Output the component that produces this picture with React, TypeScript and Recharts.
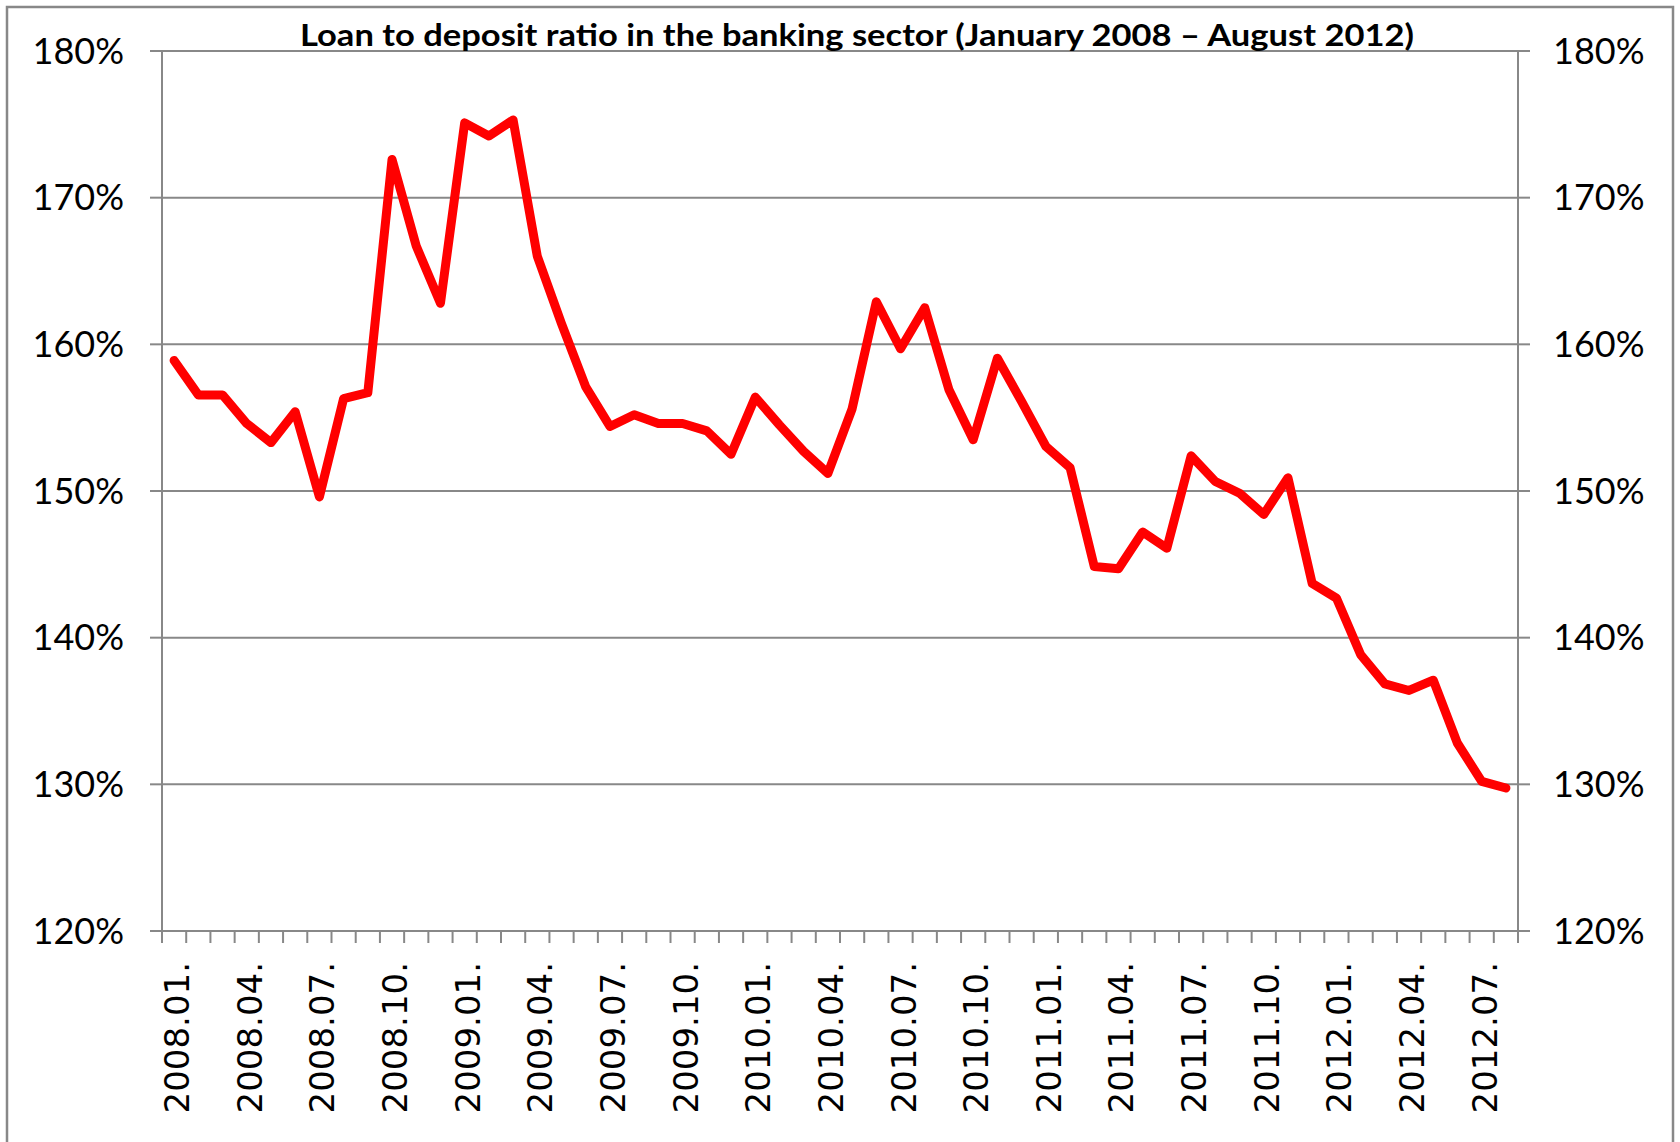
import React from "react";
import {
  LineChart,
  Line,
  XAxis,
  YAxis,
  CartesianGrid,
} from "recharts";

// Loan to deposit ratio, monthly, Jan 2008 - Aug 2012 (values in %)

const months = [
  "2008.01.", "2008.02.", "2008.03.", "2008.04.", "2008.05.", "2008.06.",
  "2008.07.", "2008.08.", "2008.09.", "2008.10.", "2008.11.", "2008.12.",
  "2009.01.", "2009.02.", "2009.03.", "2009.04.", "2009.05.", "2009.06.",
  "2009.07.", "2009.08.", "2009.09.", "2009.10.", "2009.11.", "2009.12.",
  "2010.01.", "2010.02.", "2010.03.", "2010.04.", "2010.05.", "2010.06.",
  "2010.07.", "2010.08.", "2010.09.", "2010.10.", "2010.11.", "2010.12.",
  "2011.01.", "2011.02.", "2011.03.", "2011.04.", "2011.05.", "2011.06.",
  "2011.07.", "2011.08.", "2011.09.", "2011.10.", "2011.11.", "2011.12.",
  "2012.01.", "2012.02.", "2012.03.", "2012.04.", "2012.05.", "2012.06.",
  "2012.07.", "2012.08.",
];

const ratio = [
  158.9, 156.55, 156.55, 154.6, 153.3, 155.4, 149.6, 156.3, 156.7, 172.6, 166.7, 162.8,
  175.1, 174.2, 175.3, 166.0, 161.4, 157.1, 154.4, 155.2, 154.6, 154.6, 154.1, 152.5,
  156.4, 154.5, 152.7, 151.2, 155.6, 162.9, 159.7, 162.5, 156.9, 153.5, 159.05, 156.1,
  153.05, 151.6, 144.85, 144.7, 147.2, 146.1, 152.4, 150.65, 149.85, 148.4, 150.9, 143.7,
  142.7, 138.85, 136.85, 136.4, 137.1, 132.8, 130.2, 129.75,
];

const shownLabels = [
  "2008.01.", "2008.04.", "2008.07.", "2008.10.",
  "2009.01.", "2009.04.", "2009.07.", "2009.10.",
  "2010.01.", "2010.04.", "2010.07.", "2010.10.",
  "2011.01.", "2011.04.", "2011.07.", "2011.10.",
  "2012.01.", "2012.04.", "2012.07.",
];

const yTicks = [120, 130, 140, 150, 160, 170, 180];

const data = months.map((m, i) => ({ month: m, ratio: ratio[i] }));

const W = 1680;
const H = 1142;
const halfBand = 12.1;
const grey = "#888888";

const MonthTick = (props: any) => {
  const { x, y, payload, index } = props;
  const labelY = y + 31;
  const show = shownLabels.includes(payload.value);
  return (
    <g>
      <line x1={x - halfBand} x2={x - halfBand} y1={y} y2={y + 12} stroke={grey} strokeWidth={2} />
      {index === months.length - 1 && (
        <line x1={x + halfBand} x2={x + halfBand} y1={y} y2={y + 12} stroke={grey} strokeWidth={2} />
      )}
      {show && (
        <text
          x={x + 3}
          y={labelY}
          transform={`rotate(-90, ${x + 3}, ${labelY})`}
          textAnchor="end"
          dominantBaseline="central"
          fontFamily="DejaVu Sans"
          fontSize={34}
          fill="#000"
        >
          {payload.value}
        </text>
      )}
    </g>
  );
};

const tickStyle = { fill: "#000", fontSize: 36, fontFamily: "Lato" };

export default function App() {
  return (
    <div style={{ position: "absolute", left: 0, top: 0, width: W, height: H, background: "#fff" }}>
      <LineChart
        width={W}
        height={H}
        data={data}
        margin={{ top: 51, right: 12, bottom: 0, left: 12 }}
      >
        <CartesianGrid yAxisId="left" vertical={false} stroke={grey} strokeWidth={2} />
        <XAxis
          dataKey="month"
          height={211}
          interval={0}
          padding={{ left: halfBand, right: halfBand }}
          axisLine={{ stroke: grey, strokeWidth: 2 }}
          tickLine={false}
          tickSize={0}
          tickMargin={0}
          tick={<MonthTick />}
        />
        <YAxis
          yAxisId="left"
          orientation="left"
          width={150}
          domain={[120, 180]}
          ticks={yTicks}
          interval={0}
          tickFormatter={(v: number) => `${v}%`}
          axisLine={{ stroke: grey, strokeWidth: 2 }}
          tickLine={{ stroke: grey, strokeWidth: 2 }}
          tickSize={12}
          tickMargin={26}
          tick={tickStyle}
        />
        <YAxis
          yAxisId="right"
          orientation="right"
          width={150}
          domain={[120, 180]}
          ticks={yTicks}
          interval={0}
          tickFormatter={(v: number) => `${v}%`}
          axisLine={{ stroke: grey, strokeWidth: 2 }}
          tickLine={{ stroke: grey, strokeWidth: 2 }}
          tickSize={12}
          tickMargin={23}
          tick={tickStyle}
        />
        {/* invisible copy so the secondary axis gets its ticks */}
        <Line
          yAxisId="right"
          type="linear"
          dataKey="ratio"
          stroke="none"
          dot={false}
          activeDot={false}
          legendType="none"
          isAnimationActive={false}
        />
        <Line
          yAxisId="left"
          type="linear"
          dataKey="ratio"
          stroke="#FF0000"
          strokeWidth={9}
          strokeLinejoin="round"
          strokeLinecap="round"
          dot={false}
          isAnimationActive={false}
        />
      </LineChart>
      <svg
        width={W}
        height={H}
        style={{ position: "absolute", left: 0, top: 0, pointerEvents: "none" }}
      >
        <rect x={7} y={7} width={1666} height={1200} fill="none" stroke={grey} strokeWidth={2.5} />
        <text
          x={857}
          y={46}
          textAnchor="middle"
          fontFamily="Lato"
          fontWeight="bold"
          fontSize={31}
          fill="#000"
          textLength={1114}
          lengthAdjust="spacingAndGlyphs"
        >
          Loan to deposit ratio in the banking sector (January 2008 – August 2012)
        </text>
      </svg>
    </div>
  );
}
